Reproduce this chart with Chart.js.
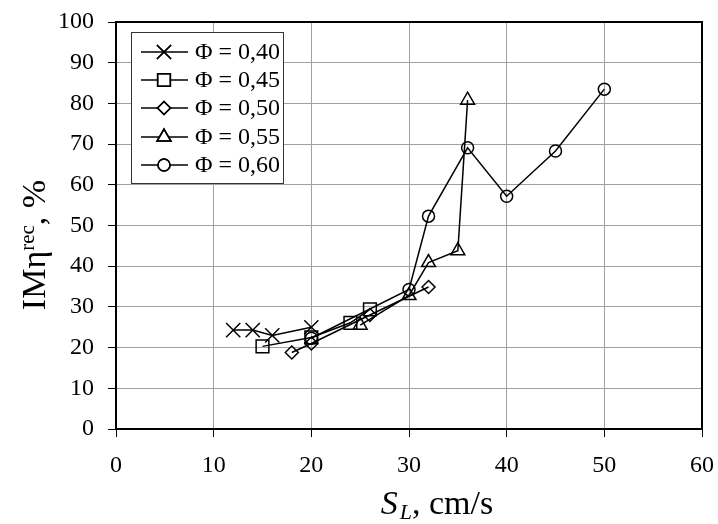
<!DOCTYPE html>
<html>
<head>
<meta charset="utf-8">
<script src="https://cdn.jsdelivr.net/npm/chart.js@4/dist/chart.umd.min.js"></script>
<style>
html,body{margin:0;padding:0;background:#fff;}
#wrap{width:718px;height:524px;position:relative;}
</style>
</head>
<body>
<div id="wrap"><canvas id="c" width="718" height="524"></canvas></div>
<script>
// ---- data ----
const xTicks = [0, 10, 20, 30, 40, 50, 60];
const yTicks = [0, 10, 20, 30, 40, 50, 60, 70, 80, 90, 100];
const seriesNames = ["Φ = 0,40", "Φ = 0,45", "Φ = 0,50", "Φ = 0,55", "Φ = 0,60"];
const phi040X = [12, 14, 16, 20];
const phi040Y = [24.3, 24.3, 23.0, 25.0];
const phi045X = [15, 20, 24, 26];
const phi045Y = [20.3, 22.5, 26.1, 29.4];
const phi050X = [18, 20, 26, 32];
const phi050Y = [18.8, 21.0, 28.0, 34.9];
const phi055X = [25, 30, 32, 35, 36];
const phi055Y = [25.5, 32.8, 40.9, 43.8, 80.8];
const phi060X = [20, 30, 32, 36, 40, 45, 50];
const phi060Y = [22.3, 34.3, 52.3, 69.1, 57.2, 68.3, 83.5];

const FONT = "'Liberation Serif', 'Times New Roman', serif";
const pts = (xs, ys) => xs.map((x, i) => ({x: x, y: ys[i]}));
const styles = [
  {pointStyle: 'crossRot', radius: 10},
  {pointStyle: 'rect', radius: 9},
  {pointStyle: 'rectRot', radius: 6.5},
  {pointStyle: 'triangle', radius: 8},
  {pointStyle: 'circle', radius: 6}
];
const allData = [pts(phi040X, phi040Y), pts(phi045X, phi045Y), pts(phi050X, phi050Y), pts(phi055X, phi055Y), pts(phi060X, phi060Y)];

const datasets = allData.map((d, i) => ({
  label: seriesNames[i],
  data: d,
  showLine: true,
  borderColor: '#000',
  borderWidth: 1.5,
  backgroundColor: 'rgba(0,0,0,0)',
  pointStyle: styles[i].pointStyle,
  pointRadius: styles[i].radius,
  pointHoverRadius: styles[i].radius,
  pointBorderColor: '#000',
  pointBackgroundColor: 'rgba(0,0,0,0)',
  pointBorderWidth: 1.5,
  tension: 0
}));

const framePlugin = {
  id: 'frame',
  afterDraw(chart) {
    const ctx = chart.ctx, a = chart.chartArea;
    ctx.save();
    ctx.strokeStyle = '#000';
    ctx.lineWidth = 2;
    ctx.strokeRect(a.left, a.top, a.right - a.left, a.bottom - a.top);

    // legend box
    const bx = 131, by = 32, bw = 152, bh = 151;
    ctx.fillStyle = '#fff';
    ctx.fillRect(bx, by, bw, bh);
    ctx.strokeStyle = '#333';
    ctx.lineWidth = 1;
    ctx.strokeRect(bx + 0.5, by + 0.5, bw, bh);
    const rowY = [52, 80, 108, 137, 165];
    chart.data.datasets.forEach((ds, i) => {
      const y = rowY[i];
      ctx.strokeStyle = '#000';
      ctx.lineWidth = 1.5;
      ctx.beginPath();
      ctx.moveTo(141, y);
      ctx.lineTo(188, y);
      ctx.stroke();
      ctx.fillStyle = '#fff';
      Chart.helpers.drawPoint(ctx, {pointStyle: ds.pointStyle, radius: ds.pointRadius, rotation: 0, borderWidth: 1.5}, 164, y);
      ctx.lineWidth = 1.5;
      ctx.strokeStyle = '#000';
      ctx.stroke();
      ctx.fillStyle = '#000';
      ctx.font = '24px ' + FONT;
      ctx.textBaseline = 'middle';
      ctx.textAlign = 'left';
      ctx.fillText(ds.label, 195, y + 1);
    });

    // x title: S_L, cm/s
    ctx.fillStyle = '#000';
    ctx.textBaseline = 'alphabetic';
    ctx.textAlign = 'left';
    const big = '34px ' + FONT, bigI = 'italic 34px ' + FONT, subI = 'italic 22px ' + FONT;
    ctx.font = bigI; const wS = ctx.measureText('S').width;
    ctx.font = subI; const wL = ctx.measureText('L').width;
    ctx.font = big; const wR = ctx.measureText(', cm/s').width;
    let x0 = 437 - (wS + 2 + wL + wR) / 2;
    const yb = 514;
    ctx.font = bigI; ctx.fillText('S', x0, yb); x0 += wS + 2;
    ctx.font = subI; ctx.fillText('L', x0, yb + 5); x0 += wL;
    ctx.font = big; ctx.fillText(', cm/s', x0, yb);

    // y title: IMη^rec, %
    ctx.save();
    ctx.translate(45, 245);
    ctx.rotate(-Math.PI / 2);
    const sup = '21px ' + FONT;
    ctx.font = big; const w1 = ctx.measureText('IMη').width;
    ctx.font = sup; const w2 = ctx.measureText('rec').width;
    ctx.font = big; const w3 = ctx.measureText(', %').width;
    let t = -(w1 + w2 + w3) / 2;
    ctx.font = big; ctx.fillText('IMη', t, 0); t += w1;
    ctx.font = sup; ctx.fillText('rec', t, -11); t += w2;
    ctx.font = big; ctx.fillText(', %', t, 0);
    ctx.restore();

    ctx.restore();
  }
};

function build() {
  new Chart(document.getElementById('c'), {
    type: 'scatter',
    data: {datasets: datasets},
    plugins: [framePlugin],
    options: {
      responsive: false,
      animation: false,
      layout: {padding: {top: 22, right: 16, left: 0, bottom: 0}},
      plugins: {legend: {display: false}, tooltip: {enabled: false}, title: {display: false}},
      scales: {
        x: {
          type: 'linear', min: 0, max: 60,
          afterBuildTicks: s => { s.ticks = xTicks.map(v => ({value: v})); },
          afterFit: s => { s.height = 95; s.paddingLeft = 0; s.paddingRight = 0; },
          ticks: {color: '#000', font: {family: FONT, size: 24}, padding: 14, maxRotation: 0},
          grid: {color: '#a0a0a0', lineWidth: 1, tickColor: '#000', tickLength: 8, drawTicks: true},
          border: {color: '#000', width: 2}
        },
        y: {
          type: 'linear', min: 0, max: 100,
          afterBuildTicks: s => { s.ticks = yTicks.map(v => ({value: v})); },
          afterFit: s => { s.width = 116; s.paddingTop = 0; s.paddingBottom = 0; },
          ticks: {color: '#000', font: {family: FONT, size: 24}, padding: 14},
          grid: {color: '#a0a0a0', lineWidth: 1, tickColor: '#000', tickLength: 8, drawTicks: true},
          border: {color: '#000', width: 2}
        }
      }
    }
  });
}
if (document.fonts && document.fonts.load) {
  Promise.all([
    document.fonts.load("24px 'Liberation Serif'"),
    document.fonts.load("italic 24px 'Liberation Serif'")
  ]).then(build, build);
} else { build(); }
</script>
</body>
</html>
